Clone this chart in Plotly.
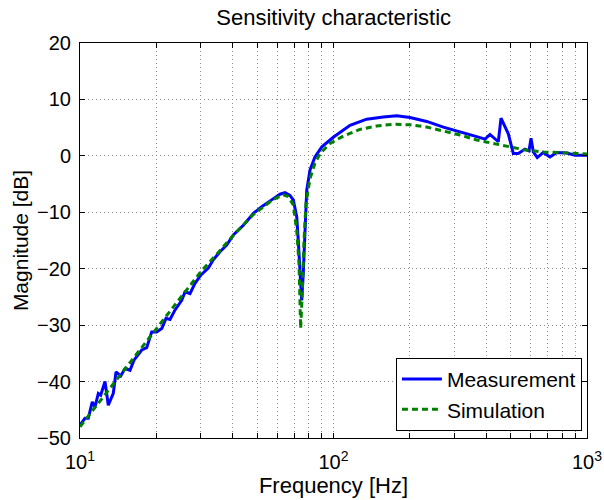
import plotly.graph_objects as go

# Measurement (frequency in Hz, magnitude in dB)
meas_f = [10, 10.46, 10.78, 11.18, 11.46, 11.81, 12.07, 12.55, 12.93, 13.53, 13.87, 14.47,
          15.05, 15.75, 16.33, 17.52, 18.33, 19.18, 20.07, 21.01, 21.84, 22.65, 23.71, 25.19,
          25.96, 27.16, 28.42, 30.0, 32.07, 33.56, 35.67, 37.91, 40.25, 44.1, 48.3, 52.1, 57.0,
          61.5, 64.4, 67.3, 69.4, 71.6, 72.6, 73.8, 74.4, 74.9, 76.0, 77.2, 78.4, 80.8, 84.5,
          90.0, 99.8, 116.2, 135.2, 157.2, 177.6, 200.3, 233.2, 271.2, 315.5, 367.2, 396.0,
          414.4, 446.8, 457.9, 489.3, 512.1, 535.8, 569.4, 590.6, 601.4, 614.1, 636.8, 672.4,
          714.5, 759.5, 831.7, 897.0, 1000]
meas_db = [-47.7, -46.5, -46.5, -43.6, -44.5, -42.1, -42.4, -40.0, -44.2, -42.1, -38.3, -39.0,
           -37.7, -38.0, -36.2, -34.4, -34.0, -31.2, -31.2, -30.6, -28.8, -29.0, -27.3, -25.6,
           -24.1, -24.4, -22.6, -21.1, -19.9, -18.4, -17.0, -15.8, -14.0, -12.3, -10.2, -9.0, -7.8,
           -6.8, -6.5, -7.0, -7.8, -10.8, -14.9, -20.8, -24.4, -25.6, -20.8, -12.0, -6.1, -2.5, -0.2,
           1.6, 3.3, 5.4, 6.5, 6.9, 7.1, 6.8, 6.1, 5.1, 4.3, 3.4, 2.96,
           3.8, 2.5, 6.7, 3.9, 0.4, 0.4, 1.2, 0.9, 3.1, 0.7, -0.3, 0.6,
           -0.2, 0.6, 0.5, 0.1, 0.1]

# Simulation
sim_f = [10, 12, 15, 20, 25, 30, 35, 40.25, 48.3, 57.9, 63.4, 66.3, 69.4, 71.6, 73.1, 74.2,
         75.3, 76.5, 77.9, 80.8, 84.5, 88.5, 96.9, 109.3, 127.2, 148.1, 172.1, 200.3, 233.2,
         271.2, 315.5, 367.2, 427.0, 497.0, 578.3, 672.4, 782.6, 911.0, 1000]
sim_db = [-48.0, -43.4, -37.8, -30.6, -25.0, -20.5, -17.2, -14.1, -10.4, -7.7, -6.9, -7.2, -8.7,
          -13.2, -19.1, -30.6, -24.4, -14.9, -8.4, -4.0, -1.3, 0.4, 2.2, 3.5, 4.7, 5.3, 5.6, 5.5,
          5.1, 4.4, 3.7, 2.8, 2.2, 1.6, 1.0, 0.7, 0.6, 0.4, 0.35]

x_tickvals = [10, 20, 30, 40, 50, 60, 70, 80, 90, 100, 200, 300, 400, 500, 600, 700, 800, 900, 1000]
x_ticktext = ["10<sup>1</sup>", "", "", "", "", "", "", "", "", "10<sup>2</sup>",
              "", "", "", "", "", "", "", "", "10<sup>3</sup>"]
y_tickvals = [-50, -40, -30, -20, -10, 0, 10, 20]
y_ticktext = ["\u221250", "\u221240", "\u221230", "\u221220", "\u221210", "0", "10", "20"]

FONT = "Liberation Sans, Arial, Helvetica, sans-serif"

fig = go.Figure()
fig.add_trace(go.Scatter(x=meas_f, y=meas_db, mode="lines", name="Measurement",
                         line=dict(color="#0000ff", width=3)))
fig.add_trace(go.Scatter(x=sim_f, y=sim_db, mode="lines", name="Simulation",
                         line=dict(color="#008000", width=3, dash="6px,4px")))

axis_common = dict(showline=True, linecolor="black", linewidth=1, mirror="ticks",
                   ticks="inside", ticklen=5, tickcolor="black", automargin=False,
                   showgrid=True, gridcolor="#8c8c8c", gridwidth=1, griddash="1px,3px",
                   zeroline=False, tickfont=dict(family=FONT, size=20, color="black"))

fig.update_xaxes(type="log", range=[1, 3], tickvals=x_tickvals, ticktext=x_ticktext,
                 ticklabelstandoff=6,
                 title=dict(text="Frequency [Hz]", font=dict(family=FONT, size=22, color="black"),
                            standoff=2),
                 **axis_common)
fig.update_yaxes(range=[-50, 20], tickvals=y_tickvals, ticktext=y_ticktext, ticklabelstandoff=4,
                 title=dict(text="Magnitude [dB]", font=dict(family=FONT, size=21, color="black"),
                            standoff=2),
                 **axis_common)

fig.update_layout(
    width=604, height=500,
    margin=dict(l=80, r=17, t=43, b=62),
    paper_bgcolor="white", plot_bgcolor="white",
    title=dict(text="Sensitivity characteristic", x=0.5525, xanchor="center",
               y=1 - 17 / 500, yanchor="middle", yref="container",
               font=dict(family=FONT, size=22, color="black")),
    legend=dict(x=0.99, y=0.018, xanchor="right", yanchor="bottom",
                bgcolor="white", bordercolor="black", borderwidth=1,
                font=dict(family=FONT, size=21, color="black"),
                tracegroupgap=0, itemwidth=40),
    showlegend=True,
)

fig.write_html("out.html")
